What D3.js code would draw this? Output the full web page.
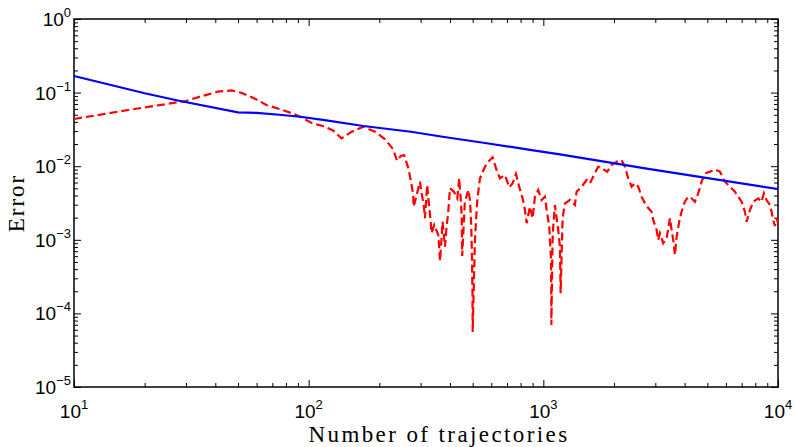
<!DOCTYPE html>
<html lang='en'>
  <head>
    <style type='text/css'>
      body { margin: 0; background-color: #fff; }
      #visualization { width: 795px; height: 447px; }
      .lbl { font-family: 'Liberation Sans', Arial, sans-serif; fill: #000; }
      .title { font-family: 'Liberation Serif', 'Times New Roman', serif; fill: #000; }
    </style>
  </head>
  <body>
    <div id='visualization'>
      <svg width='795' height='447'></svg>
    </div>

    <script src='https://d3js.org/d3.v7.min.js'></script>
    <script type='text/javascript'>
        // blue solid curve
        var blueN = [10, 20, 28, 50, 60, 75, 92, 115, 171, 273, 372, 574, 877, 1177, 2800, 10000];
        var blueErr = [0.168, 0.098, 0.0776, 0.054, 0.053, 0.050, 0.047, 0.0425, 0.0352, 0.0294,
                       0.0251, 0.0205, 0.0167, 0.0145, 0.0092, 0.0049];

        // red dashed curve
        var redN = [10, 17, 30, 34, 41, 47, 52, 60, 66, 75, 85, 93, 104, 115, 127, 138, 152, 171, 192, 211,
                    229, 238, 247, 255, 266, 273, 279, 280, 287, 298, 303, 310, 313, 320, 323, 327, 331, 334, 343, 357,
                    360, 363, 369, 372, 381, 387, 393, 400, 416, 430, 438, 441, 446, 449, 450, 451, 463, 479, 487, 493,
                    496, 499, 500, 511, 516, 523, 537, 564, 583, 608, 632, 653, 686, 716, 740, 764, 789, 816, 835, 849,
                    877, 900, 921, 951, 983, 1016, 1033, 1060, 1067, 1077, 1081, 1082, 1095, 1102, 1120, 1157, 1177, 1185, 1208, 1236,
                    1298, 1363, 1386, 1456, 1530, 1580, 1643, 1714, 1772, 1873, 1954, 2053, 2156, 2227, 2300, 2378, 2457, 2538, 2623, 2710,
                    2799, 2893, 2939, 3039, 3087, 3139, 3242, 3352, 3463, 3521, 3577, 3637, 3698, 3793, 3883, 4011, 4143, 4284, 4424, 4571,
                    4726, 4882, 5128, 5385, 5656, 5941, 6240, 6553, 6768, 6997, 7228, 7350, 7592, 7842, 8235, 8514, 8707, 8940, 9237, 9392,
                    9540, 9700, 9863, 10000];
        var redErr = [0.0438, 0.058, 0.0769, 0.0871, 0.103, 0.107, 0.0988, 0.0806, 0.0678, 0.0599, 0.0523, 0.0462, 0.038, 0.0352, 0.0306, 0.0239, 0.0292, 0.0344, 0.0294, 0.0234,
                      0.017, 0.0119, 0.0138, 0.0142, 0.00936, 0.00616, 0.00406, 0.00282, 0.00378, 0.00616, 0.00428, 0.00282, 0.00196, 0.00555, 0.00385, 0.00268, 0.00176, 0.00123, 0.00159, 0.00116,
                      0.000766, 0.000515, 0.00116, 0.00176, 0.000806, 0.00151, 0.00229, 0.00501, 0.0045, 0.00366, 0.00685, 0.00501, 0.00313, 0.00206, 0.000896, 0.000602, 0.00329, 0.00475, 0.00347, 0.00151,
                      0.000655, 0.000188, 0.0000559, 0.000994, 0.00168, 0.00347, 0.00685, 0.00984, 0.0115, 0.0132, 0.00888, 0.00685, 0.00759, 0.00517, 0.00586, 0.00783, 0.00527, 0.00366, 0.00254, 0.00168,
                      0.00282, 0.00196, 0.00385, 0.00475, 0.00347, 0.00385, 0.00254, 0.00151, 0.000994, 0.000589, 0.000208, 0.0000696, 0.000994, 0.00151, 0.00297, 0.00136, 0.000806, 0.000188, 0.00196, 0.00313,
                      0.00347, 0.00297, 0.0045, 0.00527, 0.00649, 0.00586, 0.00759, 0.00984, 0.00936, 0.00842, 0.0104, 0.0115, 0.0121, 0.00984, 0.00685, 0.00527, 0.00586, 0.00527, 0.00385, 0.00313,
                      0.0027, 0.00241, 0.00186, 0.00136, 0.000994, 0.00123, 0.000896, 0.00105, 0.00196, 0.00136, 0.000994, 0.000622, 0.0011, 0.00176, 0.00241, 0.00329, 0.00385, 0.00366, 0.00329, 0.00428,
                      0.00616, 0.00801, 0.00842, 0.00908, 0.00842, 0.00616, 0.00527, 0.0045, 0.00385, 0.00329, 0.00241, 0.00176, 0.00254, 0.00329, 0.00366, 0.00329, 0.00428, 0.00347, 0.00297, 0.00241,
                      0.00186, 0.00154, 0.00196, 0.00169];

        // tick exponents
        var xExponents = [1, 2, 3, 4];
        var yExponents = [0, -1, -2, -3, -4, -5];

        var svg = d3.select("#visualization svg");
        var margin = {top: 19, right: 17, bottom: 60, left: 74};
        var width = 795 - margin.left - margin.right;
        var height = 447 - margin.top - margin.bottom;

        var g = svg.append("g")
            .attr("transform", "translate(" + margin.left + "," + margin.top + ")");

        var x = d3.scaleLog().domain([10, 1e4]).range([0, width]);
        var y = d3.scaleLog().domain([1e-5, 1]).range([height, 0]);

        var xMajor = xExponents.map(function(e) { return Math.pow(10, e); });
        var yMajor = yExponents.map(function(e) { return Math.pow(10, e); });
        var xMinor = [], yMinor = [];
        xMajor.slice(0, -1).forEach(function(d) { for (var k = 2; k < 10; k++) xMinor.push(d * k); });
        yMajor.slice(1).forEach(function(d) { for (var k = 2; k < 10; k++) yMinor.push(d * k); });

        // ticks on all four sides, pointing inward
        function ticks(axis, vals, len, tr) {
            g.append("g").attr("transform", tr)
                .call(axis.tickValues(vals).tickSize(len).tickFormat(""))
                .call(function(s) { s.select(".domain").remove(); })
                .selectAll("line").attr("stroke", "#000").attr("stroke-width", 1);
        }
        ticks(d3.axisBottom(x), xMajor, -7, "translate(0," + height + ")");
        ticks(d3.axisBottom(x), xMinor, -4, "translate(0," + height + ")");
        ticks(d3.axisTop(x), xMajor, -7, "translate(0,0)");
        ticks(d3.axisTop(x), xMinor, -4, "translate(0,0)");
        ticks(d3.axisLeft(y), yMajor, -7, "translate(0,0)");
        ticks(d3.axisLeft(y), yMinor, -4, "translate(0,0)");
        ticks(d3.axisRight(y), yMajor, -7, "translate(" + width + ",0)");
        ticks(d3.axisRight(y), yMinor, -4, "translate(" + width + ",0)");

        // box
        g.append("rect")
            .attr("width", width).attr("height", height)
            .attr("fill", "none").attr("stroke", "#000").attr("stroke-width", 1.5);

        // tick labels 10^k
        xExponents.forEach(function(e) {
            var t = g.append("text").attr("class", "lbl")
                .attr("x", x(Math.pow(10, e))).attr("y", height + 31)
                .attr("text-anchor", "middle").style("font-size", "19px");
            t.append("tspan").text("10");
            t.append("tspan").attr("dy", -9).style("font-size", "13px").text(e);
        });
        yExponents.forEach(function(e) {
            var t = g.append("text").attr("class", "lbl")
                .attr("x", -3).attr("y", y(Math.pow(10, e)) + 7)
                .attr("text-anchor", "end").style("font-size", "19px");
            t.append("tspan").text("10");
            t.append("tspan").attr("dy", -9).style("font-size", "13px").text(e < 0 ? "\u2212" + (-e) : e);
        });

        // curves
        var line = d3.line()
            .x(function(d) { return x(d[0]); })
            .y(function(d) { return y(d[1]); });

        g.append("path")
            .datum(redN.map(function(n, i) { return [n, redErr[i]]; }))
            .attr("d", line)
            .attr("fill", "none").attr("stroke", "#ff0000")
            .attr("stroke-width", 2.2).attr("stroke-dasharray", "8,4");

        g.append("path")
            .datum(blueN.map(function(n, i) { return [n, blueErr[i]]; }))
            .attr("d", line)
            .attr("fill", "none").attr("stroke", "#0000ff").attr("stroke-width", 2.2);

        // axis titles
        svg.append("text").attr("class", "title")
            .attr("x", margin.left + width / 2 + 13).attr("y", 442)
            .attr("text-anchor", "middle").style("font-size", "23px")
            .style("letter-spacing", "2.4px")
            .text("Number of trajectories");
        svg.append("text").attr("class", "title")
            .attr("transform", "translate(24," + (margin.top + height / 2) + ") rotate(-90)")
            .attr("text-anchor", "middle").style("font-size", "23px")
            .style("letter-spacing", "2px")
            .text("Error");
    </script>
  </body>
</html>
